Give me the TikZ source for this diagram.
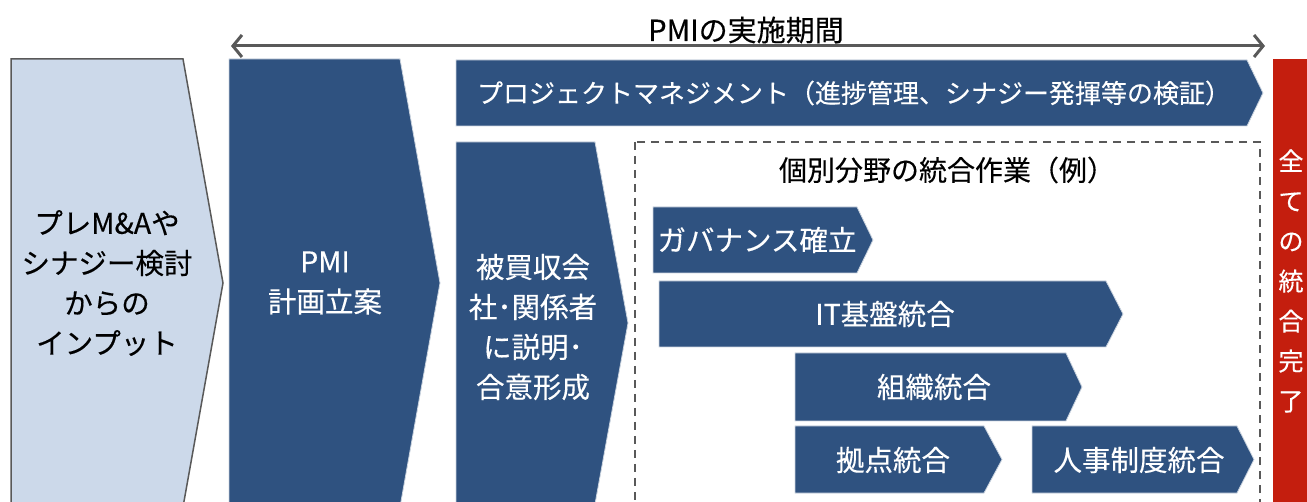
\documentclass[tikz,border=0pt]{standalone}
\usepackage{fontspec}
\setmainfont{Noto Sans CJK JP}[FakeBold=0.3]
\usetikzlibrary{arrows.meta}
\definecolor{navy}{RGB}{47,82,128}
\definecolor{pale}{RGB}{204,217,234}
\definecolor{edgegrey}{RGB}{89,89,89}
\definecolor{redbox}{RGB}{196,30,14}
\begin{document}
\begin{tikzpicture}[x=1pt,y=-1pt,
  bar/.style={fill=navy, draw=white!75!navy, line width=0.8pt},
  wtxt/.style={text=white, font=\fontsize{28.5}{40}\selectfont, align=center, inner sep=0pt},
  btxt/.style={text=black, font=\fontsize{28.5}{40}\selectfont, align=center, inner sep=0pt},
  stxt/.style={text=white, font=\fontsize{26}{30}\selectfont, inner sep=0pt}]
\useasboundingbox (0,0) rectangle (1307,502);
\begin{scope}
\clip (0,0) rectangle (1307,502);
% period arrow
\coordinate (pl) at (231,46);
\coordinate (pr) at (1265,46);
\draw[edgegrey, line width=3pt, {Straight Barb[length=9pt,width=22pt]}-{Straight Barb[length=9pt,width=22pt]}] (pl) -- (pr);
\node[btxt, font=\fontsize{29}{34}\selectfont] (period) at (746,30) {PMIの実施期間};
% input box
\draw[fill=pale, draw=edgegrey, line width=1.5pt] (11,59) -- (183,59) -- (223,283) -- (183,507) -- (11,507) -- cycle;
\node[btxt] (input) at (107,283) {プレM\&Aや\\シナジー検討\\からの\\インプット};
% PMI planning
\path[bar] (229,59) -- (400,59) -- (440,283) -- (400,507) -- (229,507) -- cycle;
\node[wtxt] (plan) at (325,283) {PMI\\計画立案};
% project management bar
\path[bar] (456,60) -- (1247,60) -- (1263,93) -- (1247,126) -- (456,126) -- cycle;
\node[stxt] (pm) at (854,93) {プロジェクトマネジメント（進捗管理、シナジー発揮等の検証）};
% explanation
\path[bar] (456,142) -- (595,142) -- (628,323) -- (595,504) -- (456,504) -- cycle;
\node[wtxt] (explain) at (533,327) {被買収会\\社･関係者\\に説明･\\合意形成};
% dashed area
\draw[edgegrey, line width=1.6pt, dash pattern=on 8pt off 6pt] (635,142) rectangle (1260,530);
\node[btxt, font=\fontsize{28}{32}\selectfont] (areatitle) at (947,170) {個別分野の統合作業（例）};
% sub bars
\path[bar] (653,207) -- (857,207) -- (873,240) -- (857,273) -- (653,273) -- cycle;
\node[wtxt] (gov) at (757,240) {ガバナンス確立};
\path[bar] (659,281) -- (1106,281) -- (1123,314) -- (1106,347) -- (659,347) -- cycle;
\node[wtxt] (it) at (885,314) {IT基盤統合};
\path[bar] (795,353) -- (1066,353) -- (1082,387) -- (1066,421) -- (795,421) -- cycle;
\node[wtxt] (org) at (934,387) {組織統合};
\path[bar] (795,426) -- (984,426) -- (1002,459.5) -- (984,493) -- (795,493) -- cycle;
\node[wtxt] (site) at (893,460) {拠点統合};
\path[bar] (1032,426) -- (1237,426) -- (1254,459.5) -- (1237,493) -- (1032,493) -- cycle;
\node[wtxt] (hr) at (1139,460) {人事制度統合};
% completion
\path[fill=redbox] (1273,59) rectangle (1340,530);
\node[wtxt, font=\fontsize{25}{40}\selectfont] (done) at (1291,281) {全\\て\\の\\統\\合\\完\\了};
\end{scope}
\end{tikzpicture}
\end{document}
